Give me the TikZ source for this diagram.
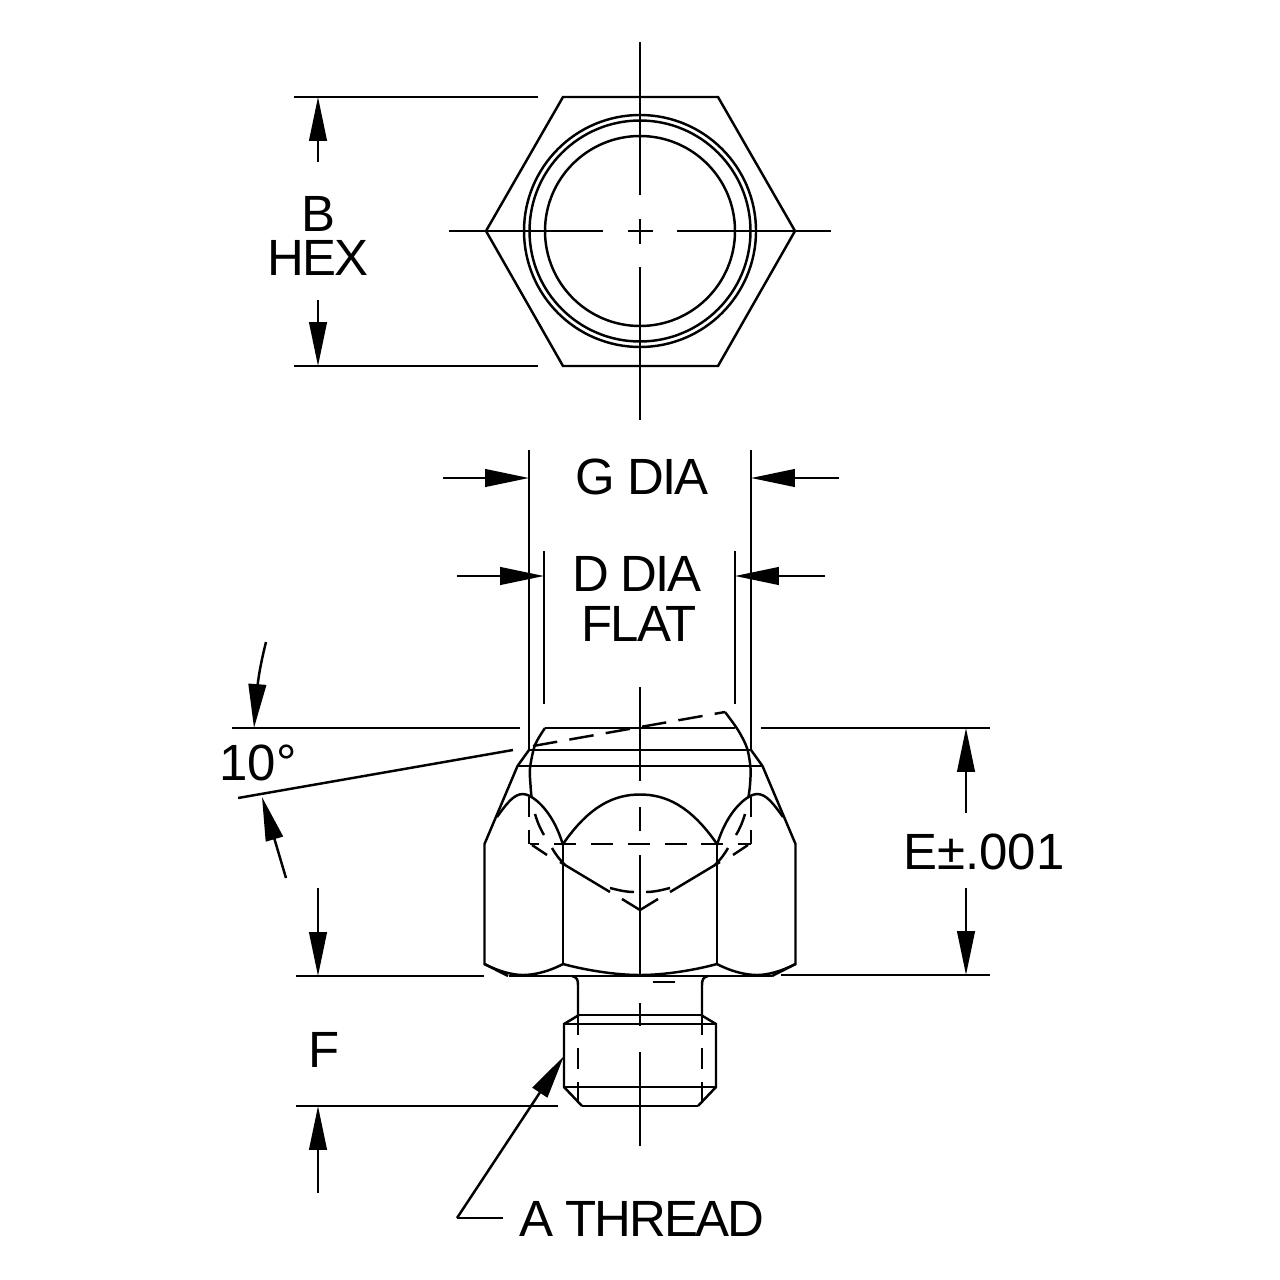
\documentclass[tikz,border=0pt]{standalone}
\usepackage{fontspec}
\setmainfont{Liberation Sans}
\usetikzlibrary{arrows.meta,
                positioning}

\begin{document}
\begin{tikzpicture}[
        x=0.02cm,
        y=-0.02cm,
        line width=1.4pt,
        line join=miter,
        dim arrow/.style={-{Triangle[length=25pt,width=10pt]}},
        dim label/.style={
            font=\fontsize{29}{25.5}\selectfont\addfontfeature{LetterSpace=-4},
            inner sep=0pt,
            align=center
        },
        dim number/.style={
            font=\fontsize{29}{29}\selectfont,
            inner sep=0pt
        },
        hidden/.style={dash pattern=on 12.5pt off 8.5pt,dash phase=7.4pt},
        short hidden/.style={dash pattern=on 11.5pt off 7.5pt}
    ]
    \useasboundingbox (0,0) rectangle (1280,1280);

    % hex view
    \draw (563,97) -- (718,97) -- (795,231) -- (718,366) -- (563,366) -- (486,231) -- cycle;
    \foreach \r in {116,110.5,95} {
        \draw (640,231) circle[radius=\r];
    }

    % hex view centre lines
    \draw (640,42) -- (640,195);
    \draw (640,219) -- (640,244);
    \draw (640,267) -- (640,420);
    \draw (449,231) -- (603,231);
    \draw (628,231) -- (653,231);
    \draw (677,231) -- (831,231);

    % B HEX dimension
    \coordinate (Btop) at (318,97);
    \coordinate (Bbot) at (318,366);
    \draw (294,97) -- (538,97);
    \draw (294,366) -- (538,366);
    \draw[dim arrow] (318,162) -- (Btop);
    \draw[dim arrow] (318,300) -- (Bbot);
    \node[dim label] (HEXlabel) at (318,236) {B\\HEX};

    % side view, both halves
    \foreach \s in {1,-1} {
        \begin{scope}[shift={(640,0)},xscale=\s]
            \draw (111,750) -- (122.5,766) -- (155.5,844) -- (155.5,964) -- (132,976);
            \draw (77,844) -- (77,964);
            % lobe of the hex
            \draw (143,817) .. controls (133,803) and (126,794) .. (117,794)
                .. controls (109,794) and (88,808) .. (77,845);
            \draw (155.5,964) .. controls (142,971) and (128,975) .. (117,975)
                .. controls (105,975) and (90,971) .. (77,964);
            \draw (77,964) .. controls (55,970) and (25,975) .. (0,975);
            \draw (77,844) .. controls (50,805) and (25,794.5) .. (0,794.5);
            % vee behind the flat
            \draw (108,845) -- (93,855);
            \draw (80,862) -- (30,892);
            \draw (18,899) -- (0,910);
            % hidden circle
            \draw (105,814) .. controls (102,824) and (99,830) .. (96,835);
            \draw (88,848) .. controls (84,855) and (80,860) .. (75,865);
            \draw (30,888) .. controls (22,890) and (14,892) .. (6,892);
            % hidden edge
            \draw (111,797) -- (111,817);
            \draw (111,830) -- (111,844);
            % neck and thread
            \draw (68,976) .. controls (63,977) and (62,980) .. (62,985) -- (62,1015);
            \draw (61,1015) -- (76,1024) -- (76,1087) -- (58,1106);
            \draw[short hidden] (62,1015) -- (62,1105);
        \end{scope}
    }

    % side view, single lines
    \draw (545,728) -- (735,728);
    \draw (529,750) -- (752,750);
    \draw (518,766) -- (763,766);
    \draw (509,976) -- (772,976);
    \draw (653,982) -- (675,982);
    \draw[hidden] (530,844) -- (751,844);
    \draw plot[smooth] coordinates {(545,728) (535,745) (530,768) (530.5,785) (531.5,797)};
    \draw plot[smooth] coordinates {(725,712) (738,730) (747,748) (750.5,768) (750,785) (748.5,797)};
    \draw (579,1015) -- (701,1015);
    \draw (564,1024) -- (717,1024);
    \draw (564,1087) -- (717,1087);
    \draw (582,1106) -- (698,1106);

    % side view centre line
    \draw (640,687) -- (640,781);
    \draw (640,807) -- (640,831);
    \draw (640,855) -- (640,975);
    \draw (640,1003) -- (640,1026);
    \draw (640,1052) -- (640,1146);

    % G DIA dimension
    \coordinate (Gleft) at (529,478);
    \coordinate (Gright) at (751,478);
    \draw (529,450) -- (529,750);
    \draw (751,450) -- (751,750);
    \draw[dim arrow] (443,478) -- (Gleft);
    \draw[dim arrow] (839,478) -- (Gright);
    \node[dim label] (Glabel) at (642,477) {G DIA};

    % D DIA dimension
    \coordinate (Dleft) at (544,576);
    \coordinate (Dright) at (735,576);
    \draw (544,551) -- (544,704);
    \draw (735,551) -- (735,704);
    \draw[dim arrow] (457,576) -- (Dleft);
    \draw[dim arrow] (825,576) -- (Dright);
    \node[dim label] (Dlabel) at (637,574) {D DIA};
    \node[dim label] (FLATlabel) at (639,624) {FLAT};

    % 10 degree angle
    \coordinate (Atop) at (254,728);
    \coordinate (Abot) at (262,797);
    \draw (232,728) -- (520,728);
    \draw (238,798) -- (513,750);
    \draw[dash pattern=on 14pt off 7pt] (533,746) -- (725,712);
    \draw (266,642) .. controls (262,658) and (259,672) .. (257,690);
    \draw[dim arrow] (257,689) -- (Atop);
    \draw[dim arrow] (286,878) -- (Abot);
    \node[dim number] (Alabel) at (258,763) {10°};

    % E dimension
    \coordinate (Etop) at (966,728);
    \coordinate (Ebot) at (966,975);
    \draw (761,728) -- (990,728);
    \draw (781,975) -- (990,975);
    \draw[dim arrow] (966,813) -- (Etop);
    \draw[dim arrow] (966,888) -- (Ebot);
    \node[dim number] (Elabel) at (984,852) {E±.001};

    % F dimension
    \coordinate (Fup) at (318,976);
    \coordinate (Fdown) at (318,1106);
    \draw (296,976) -- (484,976);
    \draw (296,1106) -- (558,1106);
    \draw[dim arrow] (318,888) -- (Fup);
    \draw[dim arrow] (318,1193) -- (Fdown);
    \node[dim label] (Flabel) at (324,1050) {F};

    % A THREAD leader
    \coordinate (Atip) at (564,1056);
    \coordinate (Abend) at (457,1218);
    \draw[dim arrow] (Abend) -- (Atip);
    \draw (Abend) -- (503,1218);
    \node[dim label] (Threadlabel) at (642,1219) {A THREAD};
\end{tikzpicture}
\end{document}
